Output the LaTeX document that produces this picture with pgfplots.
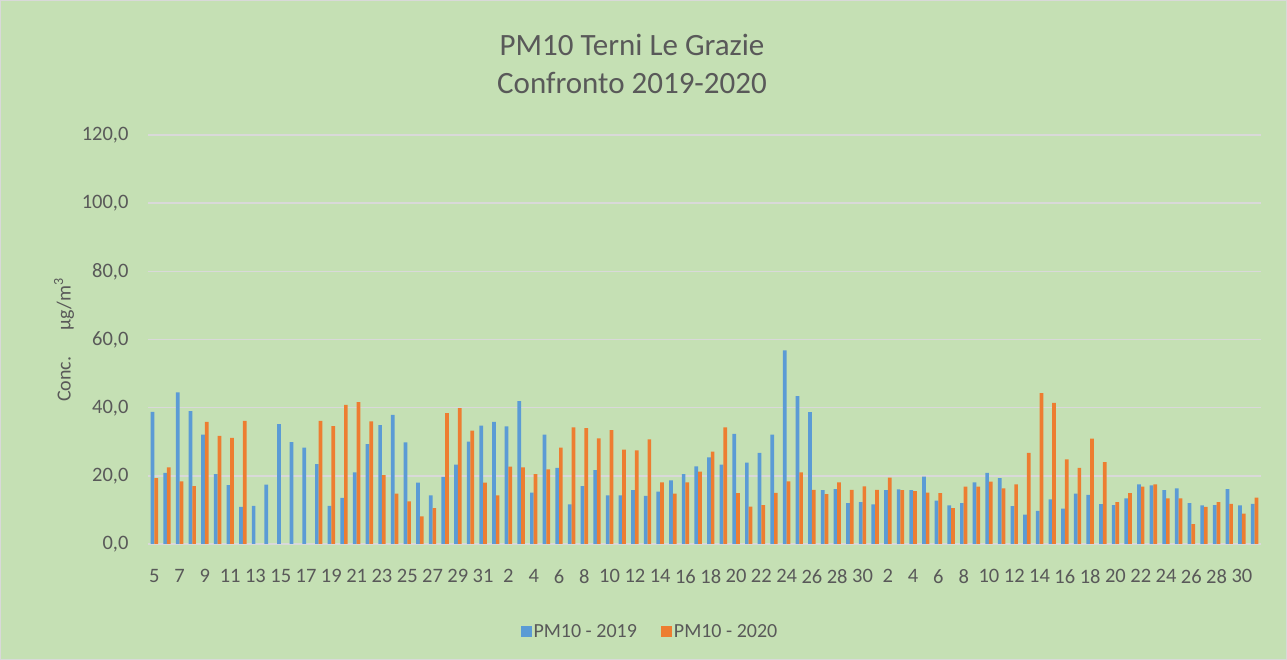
\documentclass[border=0pt]{standalone}
\usepackage{pgfplots}
\usepackage{pgfplotstable}
\pgfplotsset{compat=1.18}
\usepackage{fontspec}
\setmainfont{Carlito}
\definecolor{bgc}{HTML}{C5E0B4}
\definecolor{txt}{HTML}{595959}
\definecolor{b19}{HTML}{5B9BD5}
\definecolor{o20}{HTML}{ED7D31}
\definecolor{gridc}{HTML}{D9D9D9}
\pgfplotstableread{
x y19 y20
0 38.8 19.3
1 20.9 22.5
2 44.5 18.4
3 39.0 17.0
4 32.1 35.8
5 20.5 31.7
6 17.3 31.1
7 10.9 36.1
8 11.2 nan
9 17.4 nan
10 35.2 nan
11 29.9 nan
12 28.3 nan
13 23.4 36.1
14 11.2 34.6
15 13.5 40.8
16 21.0 41.6
17 29.3 36.0
18 34.9 20.2
19 37.9 14.8
20 29.8 12.5
21 18.0 8.1
22 14.3 10.5
23 19.7 38.4
24 23.3 39.9
25 30.0 33.3
26 34.7 18.0
27 35.8 14.3
28 34.5 22.7
29 41.9 22.5
30 15.1 20.5
31 32.1 21.9
32 22.3 28.3
33 11.6 34.2
34 17.0 34.0
35 21.7 31.0
36 14.3 33.4
37 14.3 27.7
38 15.8 27.5
39 14.1 30.7
40 15.4 18.1
41 18.7 14.8
42 20.5 18.1
43 22.8 21.2
44 25.4 27.1
45 23.3 34.2
46 32.3 14.9
47 23.9 11.0
48 26.7 11.4
49 32.1 15.0
50 56.8 18.4
51 43.4 21.0
52 38.7 15.9
53 15.8 14.6
54 16.1 18.1
55 12.0 15.9
56 12.3 16.9
57 11.6 15.9
58 15.8 19.5
59 16.0 15.8
60 15.8 15.5
61 19.8 15.1
62 12.7 14.9
63 11.3 10.5
64 12.0 16.8
65 18.1 16.8
66 20.9 18.3
67 19.3 16.3
68 11.1 17.5
69 8.6 26.7
70 9.7 44.3
71 13.1 41.4
72 10.4 24.8
73 14.8 22.3
74 14.4 30.9
75 11.7 24.0
76 11.4 12.3
77 13.4 14.9
78 17.5 16.8
79 17.2 17.5
80 15.8 13.4
81 16.3 13.4
82 12.0 5.8
83 11.3 10.9
84 11.4 12.3
85 16.1 11.8
86 11.3 8.9
87 11.8 13.6
}\datatable
\begin{document}
\begin{tikzpicture}
\fill[bgc] (0,0) rectangle (1287bp,660bp);
\draw[gridc, line width=1bp] (0.5bp,0.5bp) rectangle (1286.5bp,659.5bp);
\path[use as bounding box] (0,0) rectangle (1287bp,660bp);
\node[txt, align=center, font=\fontsize{31bp}{38bp}\selectfont] at (632bp,596bp) {PM10 Terni Le Grazie\\Confronto 2019-2020};
\node[txt, rotate=90, font=\fontsize{20bp}{24bp}\selectfont] at (64bp,320bp) {Conc.\hspace{1.3em}µg/m\textsuperscript{3}};
\begin{axis}[
  at={(148bp,116bp)}, anchor=south west,
  scale only axis, width=1113bp, height=409bp,
  ybar=0pt, bar width=3.7bp,
  xmin=-0.5, xmax=87.5, ymin=0, ymax=120,
  enlargelimits=false,
  axis line style={draw=none},
  major tick length=0pt,
  ymajorgrids, grid style={gridc, line width=1.6bp},
  ytick={0,20,...,120},
  xtick={0,2,...,86},
  xticklabels={5,7,9,11,13,15,17,19,21,23,25,27,29,31,2,4,6,8,10,12,14,16,18,20,22,24,26,28,30,2,4,6,8,10,12,14,16,18,20,22,24,26,28,30},
  /pgf/number format/assume math mode=true,
  yticklabel style={/pgf/number format/fixed, /pgf/number format/fixed zerofill, /pgf/number format/precision=1, /pgf/number format/use comma, xshift=-16bp},
  ticklabel style={txt, font=\fontsize{20.5bp}{24bp}\selectfont},
  xticklabel style={yshift=-22bp},
  legend columns=2,
  legend style={at={(0.451,-0.215)}, anchor=center, draw=none, fill=none,
    font=\fontsize{20bp}{24bp}\selectfont, text=txt,
    /tikz/every even column/.append style={column sep=22bp}},
  legend image code/.code={\fill[#1] (0bp,-5.5bp) rectangle (11bp,5.5bp);},
]
\addplot[fill=b19, draw=none] table[x=x, y=y19] {\datatable};
\addplot[fill=o20, draw=none] table[x=x, y=y20] {\datatable};
\legend{PM10 - 2019, PM10 - 2020}
\end{axis}
\end{tikzpicture}
\end{document}
